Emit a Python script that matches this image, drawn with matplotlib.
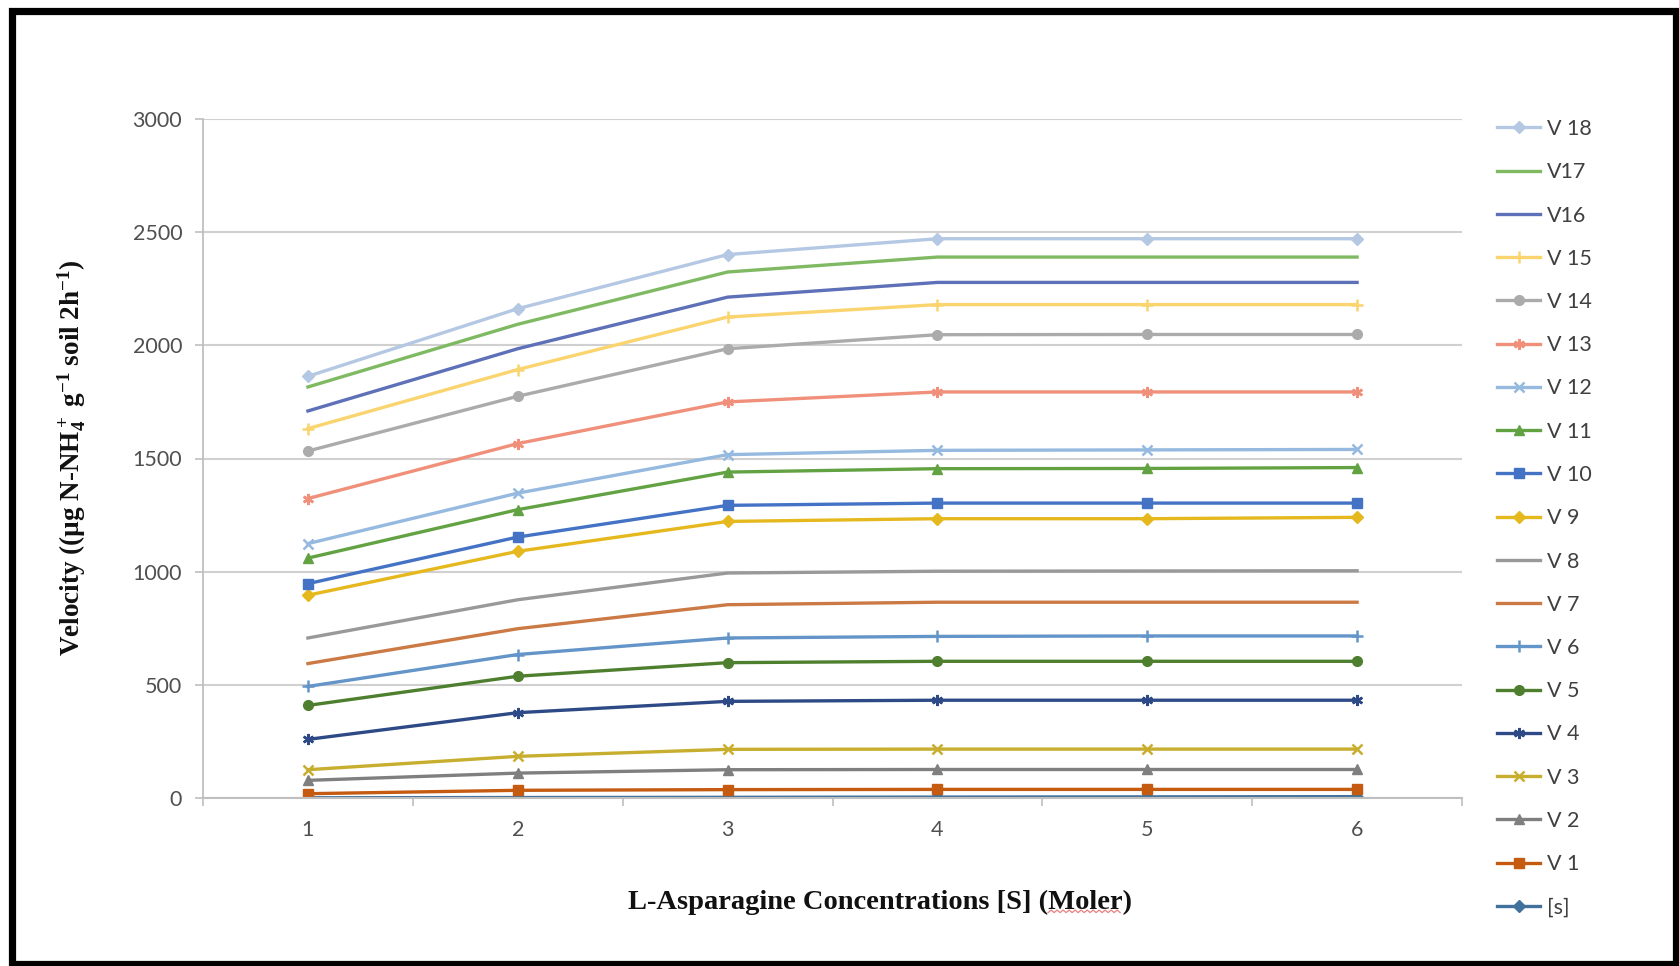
import numpy as np
import matplotlib
matplotlib.use("Agg")
import matplotlib.pyplot as plt
from matplotlib.patches import Rectangle
from matplotlib.lines import Line2D

plt.rcParams['font.family'] = ['Lato', 'DejaVu Sans']
plt.rcParams['mathtext.fontset'] = 'custom'
plt.rcParams['mathtext.rm'] = 'Liberation Serif:bold'
plt.rcParams['mathtext.it'] = 'Liberation Serif:italic:bold'
plt.rcParams['mathtext.bf'] = 'Liberation Serif:bold'

# L-Asparagine concentration (category axis)
conc = [1, 2, 3, 4, 5, 6]

s_vals = [1, 2, 3, 4, 5, 6]
v1 = [19, 34, 37, 38, 38, 38]
v2 = [78, 110, 125, 126, 126, 126]
v3 = [125, 184, 215, 216, 216, 216]
v4 = [259, 377, 427, 432, 432, 432]
v5 = [409, 538, 598, 604, 604, 604]
v6 = [493, 634, 707, 714, 716, 716]
v7 = [594, 748, 854, 865, 865, 865]
v8 = [707, 876, 994, 1002, 1003, 1004]
v9 = [896, 1090, 1222, 1234, 1234, 1240]
v10 = [947, 1153, 1293, 1303, 1303, 1303]
v11 = [1060, 1274, 1440, 1455, 1456, 1460]
v12 = [1124, 1347, 1517, 1536, 1538, 1540]
v13 = [1323, 1566, 1750, 1794, 1794, 1794]
v14 = [1533, 1775, 1985, 2047, 2048, 2048]
v15 = [1632, 1893, 2125, 2180, 2180, 2180]
v16 = [1710, 1985, 2213, 2278, 2278, 2278]
v17 = [1816, 2093, 2324, 2390, 2390, 2390]
v18 = [1863, 2162, 2401, 2471, 2471, 2471]

labels = ['[s]', 'V 1', 'V 2', 'V 3', 'V 4', 'V 5', 'V 6', 'V 7', 'V 8', 'V 9',
          'V 10', 'V 11', 'V 12', 'V 13', 'V 14', 'V 15', 'V16', 'V17', 'V 18']
series = [s_vals, v1, v2, v3, v4, v5, v6, v7, v8, v9,
          v10, v11, v12, v13, v14, v15, v16, v17, v18]

star = (6, 2, 0)
styles = [
    ('#41719C', 'D', 6), ('#C55A11', 's', 7), ('#7F7F7F', '^', 7),
    ('#C8AE2E', 'x', 7), ('#2E4A86', star, 8), ('#4E7F2E', 'o', 7),
    ('#6495C9', '+', 8), ('#CC7A45', None, 0), ('#999999', None, 0),
    ('#E5B81E', 'D', 6), ('#4472C4', 's', 7), ('#62A243', '^', 7),
    ('#95B9DF', 'x', 7), ('#F0907A', star, 8), ('#ABABAB', 'o', 7),
    ('#FAD46E', '+', 8), ('#5D70B8', None, 0), ('#7FBA63', None, 0),
    ('#B4C8E4', 'D', 6),
]

fig = plt.figure(figsize=(16.79, 9.66), dpi=100)
ax = fig.add_axes([203 / 1679, 168 / 966, 1259 / 1679, 679 / 966])

handles = []
for vals, lab, (c, m, ms) in zip(series, labels, styles):
    h, = ax.plot(conc, vals, color=c, lw=2.4, marker=m, markersize=ms,
                 markeredgewidth=1.8 if m in ('x', '+', star) else 1,
                 label=lab, solid_joinstyle='round')
    handles.append(h)

ax.set_xlim(0.5, 6.5)
ax.set_ylim(0, 3000)
ax.set_yticks(np.arange(0, 3001, 500))
ax.yaxis.grid(True, color='#D0D0D0', lw=1.5)
ax.set_axisbelow(True)
for sp in ['top', 'right']:
    ax.spines[sp].set_visible(False)
ax.spines['left'].set_color('#BFBFBF')
ax.spines['bottom'].set_color('#BFBFBF')
ax.spines['left'].set_linewidth(1.3)
ax.spines['bottom'].set_linewidth(1.5)

ax.set_xticks(conc)
ax.set_xticks(np.arange(0.5, 6.6, 1), minor=True)
ax.tick_params(axis='x', which='major', length=0, pad=16, labelsize=15.5, labelcolor='#505050')
ax.tick_params(axis='x', which='minor', length=6, color='#BFBFBF', width=1.2)
ax.tick_params(axis='y', length=6, color='#BFBFBF', width=1.2, pad=9,
               labelsize=15.5, labelcolor='#505050')

fig.text(72 / 1679, 1 - 458 / 966,
         r'Velocity ((µg N-NH$_4^+$ g$^{-1}$ soil 2h$^{-1}$)',
         family='Liberation Serif', fontweight='bold', fontsize=19.5,
         rotation=90, ha='center', va='center', color='#111111')
xl = fig.text(880 / 1679, 1 - 902 / 966, 'L-Asparagine Concentrations [S] (Moler)',
              family='Liberation Serif', fontweight='bold', fontsize=20.5,
              ha='center', va='center', color='#111111')

# spell-check squiggle under "Moler"
fig.canvas.draw()
r = fig.canvas.get_renderer()
bb = xl.get_window_extent(r)
pre = fig.text(0, 0, 'L-Asparagine Concentrations [S] (', family='Liberation Serif',
               fontweight='bold', fontsize=20.5)
wd = fig.text(0, 0, 'Moler', family='Liberation Serif', fontweight='bold', fontsize=20.5)
x0 = bb.x0 + pre.get_window_extent(r).width
x1 = x0 + wd.get_window_extent(r).width
pre.remove()
wd.remove()
zx = np.arange(x0, x1, 3.0)
zy = bb.y0 + 2 + np.where(np.arange(len(zx)) % 2 == 0, 0, 2.5)
fig.lines.append(Line2D(zx / 1679, zy / 966, transform=fig.transFigure,
                        color='#E06060', lw=0.9, alpha=0.8))

leg = fig.legend(handles[::-1], labels[::-1], loc='upper left',
                 bbox_to_anchor=(1497 / 1679, 1 - 119 / 966), frameon=False,
                 fontsize=15.5, labelspacing=1.08, handlelength=2.0,
                 handletextpad=0.3, borderaxespad=0, borderpad=0)
for t in leg.get_texts():
    t.set_color('#404040')

fig.patches.append(Rectangle((11.5 / 1679, 2.5 / 966), 1664 / 1679, 952.5 / 966,
                             transform=fig.transFigure, fill=False,
                             edgecolor='black', lw=5.2))

fig.savefig('out.png', dpi=100)
